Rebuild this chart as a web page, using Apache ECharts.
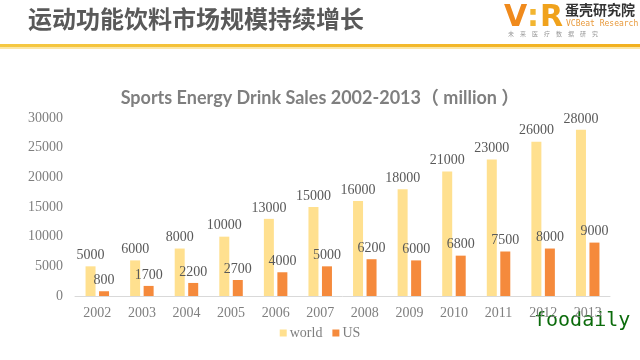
<!DOCTYPE html>
<html><head><meta charset="utf-8">
<script src="https://cdn.jsdelivr.net/npm/echarts@6/dist/echarts.min.js"></script>
<style>html,body{margin:0;padding:0;background:#fff}#c{width:640px;height:360px}</style>
</head><body><div id="c"></div>
<script>
const years = ['2002','2003','2004','2005','2006','2007','2008','2009','2010','2011','2012','2013'];
const world = [5000,6000,8000,10000,13000,15000,16000,18000,21000,23000,26000,28000];
const us = [800,1700,2200,2700,4000,5000,6200,6000,6800,7500,8000,9000];
const yTicks = [0,5000,10000,15000,20000,25000,30000];

const chart = echarts.init(document.getElementById('c'), null, {renderer:'canvas'});
const serif = '"Liberation Serif","Times New Roman",serif';
chart.setOption({
  animation:false,
  backgroundColor:'#fff',
  title:{
    text:'Sports Energy Drink Sales 2002-2013（ million ）',
    left:'center', top:84,
    textStyle:{fontFamily:'Lato, "Noto Sans CJK SC", sans-serif', fontWeight:'bold', fontSize:18, color:'#7f7f7f'}
  },
  legend:{
    bottom:15, left:'center', itemWidth:7, itemHeight:7, itemGap:10,
    icon:'rect',
    textStyle:{fontFamily:serif, fontSize:14, color:'#7f7f7f', padding:[0,0,0,-2]},
    data:['world','US']
  },
  grid:{left:75, right:30, top:118, bottom:64},
  xAxis:{
    type:'category', data:years,
    axisLine:{lineStyle:{color:'#d9d9d9'}},
    axisTick:{show:false},
    axisLabel:{fontFamily:serif, fontSize:14, color:'#7f7f7f', margin:10}
  },
  yAxis:{
    type:'value', min:0, max:yTicks[yTicks.length-1], interval:yTicks[1]-yTicks[0],
    splitLine:{show:false}, axisLine:{show:false}, axisTick:{show:false},
    axisLabel:{fontFamily:serif, fontSize:14, color:'#7f7f7f', margin:12, formatter:v=>String(v)}
  },
  series:[
    {name:'world', type:'bar', data:world, barWidth:10, barGap:'35%',
     itemStyle:{color:'#FFE08F'},
     label:{show:true, position:'top', distance:4, fontFamily:serif, fontSize:14, color:'#595959'}},
    {name:'US', type:'bar', data:us, barWidth:10,
     itemStyle:{color:'#F58A3C'},
     label:{show:true, position:'top', distance:4, fontFamily:serif, fontSize:14, color:'#595959'}}
  ],
  graphic:[
    {type:'text', left:28, top:7, style:{text:'运动功能饮料市场规模持续增长', font:'bold 24px "Noto Sans CJK SC"', fill:'#595959'}},
    {type:'rect', left:0, top:44, shape:{width:640, height:3},
     style:{fill:new echarts.graphic.LinearGradient(0,0,1,0,[{offset:0,color:'#F5C842'},{offset:1,color:'#F2B01E'}])}},
    {type:'rect', left:0, top:47, shape:{width:640, height:2}, style:{fill:'#FBE6A6'}},
    {type:'text', left:504, top:3, style:{text:'V', font:'900 30px "DejaVu Sans"', fill:'#F08A1C'}},
    {type:'text', left:527, top:3, style:{text:':', font:'900 30px "DejaVu Sans"', fill:'#F2B530'}},
    {type:'text', left:540, top:3, style:{text:'R', font:'900 30px "DejaVu Sans"', fill:'#F0A21C'}},
    {type:'text', left:565, top:3, style:{text:'蛋壳研究院', font:'bold 14px "Noto Sans CJK SC"', fill:'#333'}},
    {type:'text', left:566, top:20, style:{text:'VCBeat Research', font:'8px "DejaVu Sans Mono"', fill:'#E89A3C'}},
    {type:'text', left:508, top:31, style:{text:'未　来　医　疗　数　据　研　究', font:'6px "Noto Sans CJK SC"', fill:'#999'}},
    {type:'text', left:534, top:311, style:{text:'foodaily', font:'20px "DejaVu Sans Mono"', fill:'#0B6B0B'}}
  ]
});
</script></body></html>
